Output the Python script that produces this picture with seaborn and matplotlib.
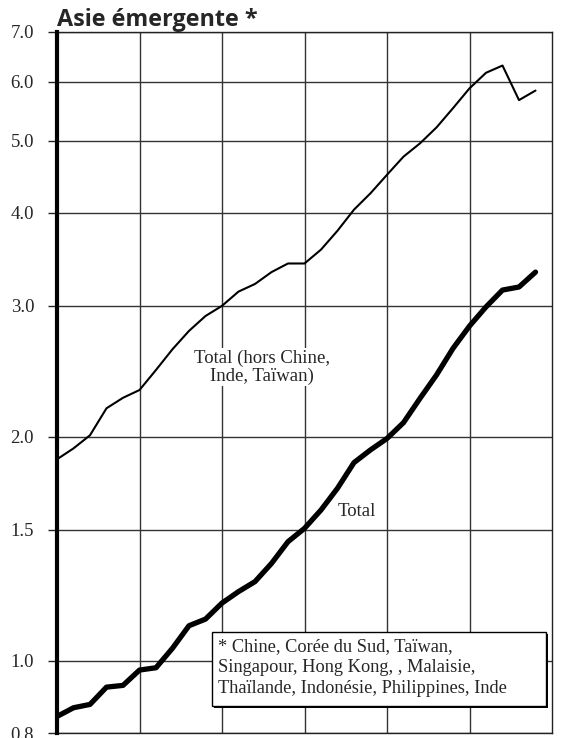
import numpy as np
import pandas as pd
import matplotlib
matplotlib.use('Agg')
import matplotlib.pyplot as plt
import matplotlib.patheffects as pe
from matplotlib.patches import Rectangle
import seaborn as sns

# Valeurs (echelle log)
periodes = list(range(30))
total = [0.842, 0.865, 0.874, 0.922, 0.927, 0.972, 0.979, 1.04, 1.115, 1.138,
         1.196, 1.239, 1.278, 1.352, 1.446, 1.507, 1.595, 1.706, 1.847, 1.921,
         1.99, 2.09, 2.253, 2.422, 2.63, 2.818, 2.99, 3.15, 3.18, 3.33]
hors_chine = [1.866, 1.93, 2.01, 2.185, 2.257, 2.312, 2.46, 2.623, 2.776, 2.907,
              3.0, 3.135, 3.21, 3.33, 3.42, 3.42, 3.57, 3.785, 4.04, 4.25,
              4.5, 4.76, 4.96, 5.21, 5.53, 5.88, 6.17, 6.31, 5.67, 5.84]
yticks = [0.8, 1.0, 1.5, 2.0, 3.0, 4.0, 5.0, 6.0, 7.0]

df = pd.DataFrame({'periode': periodes, 'Total': total, 'Hors': hors_chine})

sns.set_style('white')
serif = ['Liberation Serif', 'DejaVu Serif']

fig = plt.figure(figsize=(5.69, 7.38), dpi=100)
ax = fig.add_axes([57/569, 1 - 733/738, 495/569, 701/738])

sns.lineplot(data=df, x='periode', y='Hors', ax=ax, color='black', lw=1.5, zorder=3)
sns.lineplot(data=df, x='periode', y='Total', ax=ax, color='black', lw=3.8, zorder=3)

ax.set_yscale('log')
ax.set_ylim(0.8, 7.0)
ax.set_xlim(0, 30)
ax.set_yticks(yticks)
ax.set_yticklabels([f'{v:.1f}' for v in yticks], fontfamily=serif, fontsize=13.5)
ax.yaxis.set_minor_locator(matplotlib.ticker.NullLocator())
ax.set_xticks([5, 10, 15, 20, 25])
ax.set_xticklabels([])
ax.tick_params(axis='x', length=0)
ax.tick_params(axis='y', length=6.5, width=1, color='#222222', pad=10, direction='out', left=True)
ax.grid(True, color='#333333', lw=1.0)
ax.set_xlabel('')
ax.set_ylabel('')

for s in ['top', 'right', 'bottom']:
    ax.spines[s].set_color('#222222')
    ax.spines[s].set_linewidth(1.0)
ax.spines['left'].set_color('black')
ax.spines['left'].set_linewidth(3)
ax.spines['left'].set_zorder(4)

# Titre
fig.text(57/569, 1 - 26/738, 'Asie émergente *', fontfamily=['Open Sans', 'DejaVu Sans'],
         fontweight='bold', fontsize=16.8, va='baseline', ha='left')

# Etiquettes des courbes
ax.text(12.4, 2.48, 'Total (hors Chine,\nInde, Taïwan)', fontfamily=serif, fontsize=13.5,
        ha='center', va='center', linespacing=1.05, zorder=2,
        bbox=dict(facecolor='white', edgecolor='none', pad=1))
ax.text(18.2, 1.586, 'Total', fontfamily=serif, fontsize=13.5, ha='center', va='center',
        zorder=2, bbox=dict(facecolor='white', edgecolor='none', pad=1))

# Note dans un cadre avec ombre
cadre = Rectangle((0.313, 0.0385), 0.675, 0.1055, transform=ax.transAxes,
                  facecolor='white', edgecolor='black', lw=1.0, zorder=5,
                  path_effects=[pe.SimplePatchShadow(offset=(1.5, -1.5), shadow_rgbFace='black', alpha=1),
                                pe.Normal()])
ax.add_patch(cadre)
ax.text(0.325, 0.0935, '* Chine, Corée du Sud, Taïwan,\nSingapour, Hong Kong, , Malaisie,\n'
        'Thaïlande, Indonésie, Philippines, Inde', transform=ax.transAxes,
        fontfamily=serif, fontsize=13.2, ha='left', va='center', linespacing=1.3, zorder=6)

fig.savefig('out.png', dpi=100)
